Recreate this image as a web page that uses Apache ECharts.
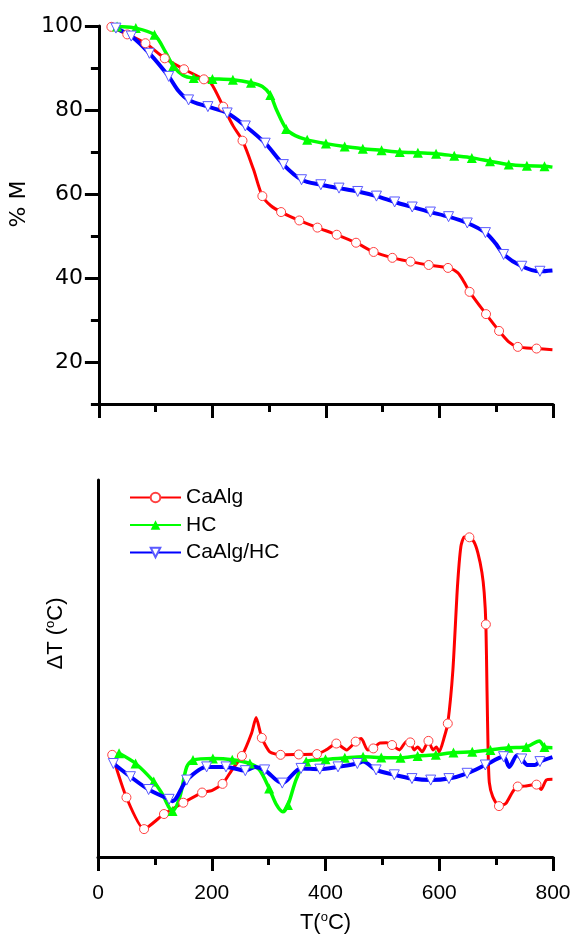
<!DOCTYPE html>
<html>
<head>
<meta charset="utf-8">
<script src="https://cdn.jsdelivr.net/npm/echarts@6/dist/echarts.min.js"></script>
<style>html,body{margin:0;padding:0;background:#fff}#c{width:574px;height:936px}</style>
</head>
<body>
<div id="c"></div>
<script>
// ---------- TGA (% M) ----------
const tgaCaAlgMarkT = [22, 50, 82, 116, 150, 185, 219, 253, 288, 321, 353, 385, 419, 453, 484, 517, 549, 581, 615, 653, 682, 705, 738, 771];
const tgaCaAlgMarkV = [99.8, 98.0, 95.9, 92.3, 89.7, 87.3, 80.8, 72.7, 59.5, 55.7, 53.7, 52.0, 50.3, 48.4, 46.2, 44.8, 43.9, 43.1, 42.4, 36.7, 31.4, 27.4, 23.6, 23.2];
const tgaCaAlgCurveT = [198, 237, 272, 303, 632, 644, 722, 799];
const tgaCaAlgCurveV = [86.3, 76.1, 66.0, 57.2, 41.3, 38.9, 24.8, 22.9];

const tgaHCMarkT = [32, 65, 98, 131, 167, 200, 236, 268, 302, 330, 367, 400, 433, 465, 498, 530, 562, 594, 626, 657, 689, 722, 754, 785];
const tgaHCMarkV = [99.9, 99.5, 97.9, 90.5, 87.6, 87.4, 87.2, 86.5, 83.6, 75.5, 72.9, 72.0, 71.3, 70.8, 70.4, 70.0, 69.8, 69.6, 69.1, 68.6, 67.8, 67.0, 66.7, 66.6];
const tgaHCCurveT = [18, 117, 148, 288, 313, 346, 799];
const tgaHCCurveV = [100, 93.9, 88.3, 85.6, 80.0, 73.9, 66.4];

const tgaMixMarkT = [30, 57, 89, 123, 158, 192, 226, 258, 293, 325, 357, 391, 423, 456, 489, 521, 552, 584, 616, 649, 681, 713, 745, 777];
const tgaMixMarkV = [99.5, 97.6, 93.5, 88.0, 82.4, 80.8, 79.3, 76.2, 72.1, 67.0, 63.4, 62.2, 61.4, 60.6, 59.5, 58.1, 56.9, 55.7, 54.6, 53.1, 50.8, 45.6, 42.8, 41.6];
const tgaMixCurveT = [25, 140, 699, 799];
const tgaMixCurveV = [99.9, 84.6, 48.2, 41.8];

// ---------- DTA (ΔT, arbitrary units) ----------
const dtaCaAlgMarkT = [25, 50, 81, 116, 150, 183, 219, 253, 288, 321, 353, 385, 419, 453, 484, 517, 549, 581, 615, 653, 682, 705, 738, 771];
const dtaCaAlgMarkV = [27.1, 15.8, 7.4, 11.4, 14.4, 17.1, 19.4, 26.8, 31.6, 27.1, 27.2, 27.3, 30.1, 30.6, 28.8, 29.7, 30.4, 30.8, 35.4, 84.8, 61.7, 13.5, 18.7, 19.2];
const dtaCaAlgCurveT = [200, 235, 270, 278, 302, 401, 437, 463, 474, 495, 507, 530, 542, 556, 562, 570, 589, 595, 600, 609, 624, 632, 638, 644, 661, 668, 675, 679, 684, 686, 688, 694, 717, 729, 750, 779, 788, 799];
const dtaCaAlgCurveV = [17.6, 23.0, 32.8, 37.0, 27.9, 28.4, 28.4, 31.4, 28.4, 30.2, 30.3, 28.4, 30.6, 28.4, 29.2, 27.9, 28.4, 29.2, 27.9, 31.9, 49.6, 71.7, 82.3, 84.9, 83.6, 80.6, 75.5, 70.2, 44.0, 27.5, 19.8, 16.0, 14.2, 17.3, 18.8, 17.9, 20.4, 20.6];

const dtaHCMarkT = [37, 66, 98, 131, 167, 202, 236, 267, 301, 334, 366, 400, 434, 466, 498, 532, 562, 594, 625, 658, 690, 722, 753, 785];
const dtaHCMarkV = [27.5, 24.8, 20.0, 12.2, 25.7, 26.1, 25.8, 24.8, 18.2, 13.8, 25.3, 25.9, 26.3, 26.6, 26.4, 26.3, 26.8, 27.1, 27.7, 27.9, 28.4, 29.0, 29.2, 29.2];
const dtaHCCurveT = [112, 144, 156, 284, 314, 325, 349, 776, 799];
const dtaHCCurveV = [17.0, 16.0, 23.9, 23.1, 13.8, 12.0, 20.8, 30.8, 29.0];

const dtaMixMarkT = [27, 57, 89, 125, 156, 191, 225, 259, 293, 324, 357, 390, 422, 456, 489, 521, 552, 585, 617, 649, 681, 713, 745, 777];
const dtaMixMarkV = [24.8, 21.3, 17.9, 15.3, 20.4, 23.9, 23.9, 22.9, 23.1, 19.6, 23.5, 23.3, 23.9, 24.8, 23.1, 21.8, 20.8, 20.4, 20.8, 22.2, 24.4, 26.6, 26.0, 25.3];
const dtaMixCurveT = [131, 276, 466, 723, 737, 755, 768, 799];
const dtaMixCurveV = [14.8, 23.9, 25.3, 23.9, 27.0, 24.4, 24.4, 26.5];

// ---------- axis ticks / labels ----------
const tgaYLabels = [20, 40, 60, 80, 100];
const xLabels = [0, 200, 400, 600, 800];

const FONT = '"Liberation Sans", Arial, sans-serif';
const RED = '#ff0000', GREEN = '#00ff00', BLUE = '#0000ff';

function build(cT, cV, mT, mV) {
  const pts = cT.map((t, i) => ({ value: [t, cV[i]], symbol: 'none' }))
    .concat(mT.map((t, i) => ({ value: [t, mV[i]] })));
  pts.sort((a, b) => a.value[0] - b.value[0]);
  return pts;
}

const styles = {
  'CaAlg': { symbol: 'circle', symbolSize: 9, symbolRotate: 0,
    itemStyle: { color: '#ffffff', borderColor: '#ff4040', borderWidth: 1 },
    lineStyle: { color: RED, width: 3 } },
  'HC': { symbol: 'triangle', symbolSize: 10, symbolRotate: 0,
    itemStyle: { color: GREEN, borderColor: GREEN, borderWidth: 0 },
    lineStyle: { color: GREEN, width: 3.5 } },
  'CaAlg/HC': { symbol: 'triangle', symbolSize: 10, symbolRotate: 180,
    itemStyle: { color: '#ffffff', borderColor: '#5a5aff', borderWidth: 1 },
    lineStyle: { color: BLUE, width: 4 } }
};

function series(name, xi, yi, data, smooth) {
  const s = styles[name];
  return Object.assign({
    name, type: 'line', xAxisIndex: xi, yAxisIndex: yi, data,
    smooth: smooth, showSymbol: true,
    emphasis: { disabled: true }, silent: true
  }, JSON.parse(JSON.stringify(s)));
}

const axisLine = { show: true, lineStyle: { color: '#000', width: 3 } };
const label = { color: '#000', fontFamily: FONT, fontSize: 21 };
const subRich = {
  a: { fontFamily: FONT, fontSize: 22, color: '#000', lineHeight: 24 },
  s: { fontFamily: FONT, fontSize: 13, color: '#000', verticalAlign: 'top', lineHeight: 24 }
};

const chart = echarts.init(document.getElementById('c'), null, { renderer: 'canvas' });
chart.setOption({
  animation: false,
  backgroundColor: '#fff',
  grid: [
    { left: 98, top: 26, width: 455, height: 378 },
    { left: 98, top: 480, width: 455, height: 377 }
  ],
  legend: {
    orient: 'vertical', left: 129, top: 487, padding: 0,
    itemWidth: 51, itemHeight: 12, itemGap: 6.5, itemTextGap: 6,
    data: ['CaAlg', 'HC', 'CaAlg/HC'],
    textStyle: { color: '#000', fontFamily: FONT, fontSize: 21, lineHeight: 21 },
    selectedMode: false
  },
  xAxis: [
    { gridIndex: 0, type: 'value', min: 0, max: 800, interval: 100, position: 'bottom',
      axisLine, axisTick: { show: true, length: 8, lineStyle: { width: 3, color: '#000' } },
      axisLabel: { show: false }, splitLine: { show: false } },
    { gridIndex: 0, type: 'value', min: 0, max: 800, interval: 200, position: 'bottom',
      axisLine: { show: false }, axisTick: { show: true, length: 14, lineStyle: { width: 3, color: '#000' } },
      axisLabel: { show: false }, splitLine: { show: false } },
    { gridIndex: 1, type: 'value', min: 0, max: 800, interval: 100, position: 'bottom',
      axisLine, axisTick: { show: true, length: 8, lineStyle: { width: 3, color: '#000' } },
      axisLabel: { show: false }, splitLine: { show: false } },
    { gridIndex: 1, type: 'value', min: 0, max: 800, interval: 200, position: 'bottom',
      axisLine: { show: false }, axisTick: { show: true, length: 14, lineStyle: { width: 3, color: '#000' } },
      axisLabel: Object.assign({ show: true, margin: 26, customValues: xLabels }, label),
      splitLine: { show: false },
      name: '{a|T(}{s|o}{a|C)}', nameLocation: 'middle', nameGap: 54,
      nameTextStyle: { rich: subRich } }
  ],
  yAxis: [
    { gridIndex: 0, type: 'value', min: 10, max: 100, interval: 10, position: 'left',
      axisLine, axisTick: { show: true, length: 8, lineStyle: { width: 3, color: '#000' } },
      axisLabel: Object.assign({ show: true, margin: 16, customValues: tgaYLabels }, label, { fontFamily: '"DejaVu Sans", sans-serif', fontSize: 22 }),
      splitLine: { show: false },
      name: '% M', nameLocation: 'middle', nameGap: 55,
      nameTextStyle: { color: '#000', fontFamily: '"DejaVu Sans", sans-serif', fontSize: 22, padding: [0, 0, 0, 22] } },
    { gridIndex: 0, type: 'value', min: 10, max: 100, interval: 10, position: 'left',
      axisLine: { show: false },
      axisTick: { show: true, length: 14, customValues: tgaYLabels, lineStyle: { width: 3, color: '#000' } },
      axisLabel: { show: false }, splitLine: { show: false } },
    { gridIndex: 1, type: 'value', min: 0, max: 100, interval: 10, position: 'left',
      axisLine, axisTick: { show: false }, axisLabel: { show: false }, splitLine: { show: false },
      name: '{a|ΔT (}{s|o}{a|C)}', nameLocation: 'middle', nameGap: 30,
      nameTextStyle: { rich: subRich, padding: [0, 0, 0, 70] } }
  ],
  series: [
    series('CaAlg', 0, 0, build(tgaCaAlgCurveT, tgaCaAlgCurveV, tgaCaAlgMarkT, tgaCaAlgMarkV), 0.3),
    series('HC', 0, 0, build(tgaHCCurveT, tgaHCCurveV, tgaHCMarkT, tgaHCMarkV), 0.3),
    series('CaAlg/HC', 0, 0, build(tgaMixCurveT, tgaMixCurveV, tgaMixMarkT, tgaMixMarkV), 0.3),
    series('CaAlg', 3, 2, build(dtaCaAlgCurveT, dtaCaAlgCurveV, dtaCaAlgMarkT, dtaCaAlgMarkV), 0.2),
    series('HC', 3, 2, build(dtaHCCurveT, dtaHCCurveV, dtaHCMarkT, dtaHCMarkV), 0.3),
    series('CaAlg/HC', 3, 2, build(dtaMixCurveT, dtaMixCurveV, dtaMixMarkT, dtaMixMarkV), 0.3)
  ]
});
</script>
</body>
</html>
